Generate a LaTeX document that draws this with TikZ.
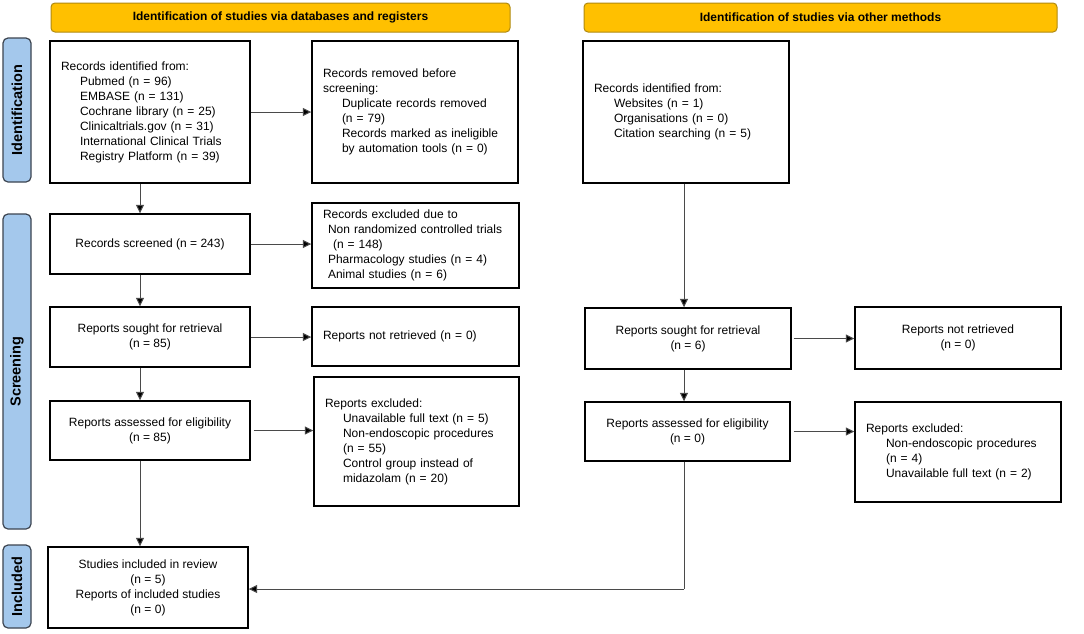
\documentclass[tikz,border=0pt]{standalone}
\usepackage{fontspec}
\setmainfont{Liberation Sans}
\usetikzlibrary{arrows.meta}
\definecolor{hdr}{HTML}{FFC000}
\definecolor{hdrb}{HTML}{B08A10}
\definecolor{side}{HTML}{A4C8EC}
\definecolor{sideb}{HTML}{3C4450}
\definecolor{conn}{HTML}{4A4A4A}
\begin{document}
\begin{tikzpicture}[x=1pt,y=-1pt,
  box/.style={draw=black, line width=1.4pt, fill=white, inner xsep=11pt, inner ysep=0pt,
    font=\fontsize{12}{15}\selectfont},
  lbox/.style={box, align=left},
  cbox/.style={box, align=center, inner xsep=0pt},
  header/.style={draw=hdrb, line width=1pt, fill=hdr, rounded corners=4pt,
    font=\bfseries\fontsize{12}{14}\selectfont, inner sep=0pt},
  sidebar/.style={draw=sideb, line width=1.2pt, fill=side, rounded corners=5pt,
    font=\bfseries\fontsize{14.5}{16}\selectfont, inner sep=0pt, rotate=90,
    minimum height=28pt},
  arr/.style={draw=conn, line width=1pt, -{Triangle[length=8.5pt,width=8pt,fill=black]}},
  ln/.style={draw=conn, line width=1pt}
]
\useasboundingbox (0,0) rectangle (1084,633);
\fill[white] (0,0) rectangle (1084,633);

% headers
\node[header, minimum width=459pt, minimum height=29pt] (hL) at (280.5,17.5)
  {Identification of studies via databases and registers};
\node[header, minimum width=473pt, minimum height=29pt] (hR) at (820.5,17.5)
  {Identification of studies via other methods};

% side bars
\node[sidebar, minimum width=144pt] (bId) at (17,110) {Identification};
\node[sidebar, minimum width=315pt] (bSc) at (17,371.5) {Screening};
\node[sidebar, minimum width=83pt] (bIn) at (17,586.5) {Included};

% left column
\node[lbox, text width=178pt, minimum height=142pt] (idL) at (150,112)
  {Records identified from:\\
   \hspace*{19pt}Pubmed (n = 96)\\
   \hspace*{19pt}EMBASE (n = 131)\\
   \hspace*{19pt}Cochrane library (n = 25)\\
   \hspace*{19pt}Clinicaltrials.gov (n = 31)\\
   \hspace*{19pt}International Clinical Trials\\
   \hspace*{19pt}Registry Platform (n = 39)};
\node[lbox, text width=184pt, minimum height=142pt] (rem) at (415,112)
  {Records removed before\\
   screening:\\
   \hspace*{19pt}Duplicate records removed\\
   \hspace*{19pt}(n = 79)\\
   \hspace*{19pt}Records marked as ineligible\\
   \hspace*{19pt}by automation tools (n = 0)};
\node[cbox, minimum width=200pt, minimum height=60pt] (scr) at (150,244)
  {Records screened (n = 243)};
\node[lbox, text width=185pt, minimum height=85pt] (exc1) at (415.5,245.5)
  {Records excluded due to\\
   \hspace*{5pt}Non randomized controlled trials\\
   \hspace*{10pt}(n = 148)\\
   \hspace*{5pt}Pharmacology studies (n = 4)\\
   \hspace*{5pt}Animal studies (n = 6)};
\node[cbox, minimum width=200pt, minimum height=60pt] (soL) at (150,337)
  {Reports sought for retrieval\\(n = 85)};
\node[lbox, text width=185pt, minimum height=59pt] (nrL) at (415.5,336.5)
  {Reports not retrieved (n = 0)};
\node[cbox, minimum width=200pt, minimum height=59pt] (asL) at (150,430.5)
  {Reports assessed for eligibility\\(n = 85)};
\node[lbox, text width=183pt, minimum height=129pt] (exc2) at (416.5,441.5)
  {Reports excluded:\\
   \hspace*{18pt}Unavailable full text (n = 5)\\
   \hspace*{18pt}Non-endoscopic procedures\\
   \hspace*{18pt}(n = 55)\\
   \hspace*{18pt}Control group instead of\\
   \hspace*{18pt}midazolam (n = 20)};
\node[cbox, minimum width=200pt, minimum height=81pt] (inc) at (148,587.5)
  {Studies included in review\\(n = 5)\\Reports of included studies\\(n = 0)};

% right column
\node[lbox, text width=184pt, minimum height=142pt] (idR) at (686,112)
  {Records identified from:\\
   \hspace*{20pt}Websites (n = 1)\\
   \hspace*{20pt}Organisations (n = 0)\\
   \hspace*{20pt}Citation searching (n = 5)};
\node[cbox, minimum width=206pt, minimum height=61pt] (soR) at (688,338.5)
  {Reports sought for retrieval\\(n = 6)};
\node[cbox, minimum width=206pt, minimum height=62pt] (nrR) at (958,338)
  {Reports not retrieved\\(n = 0)};
\node[cbox, minimum width=205pt, minimum height=59pt] (asR) at (687.5,431.5)
  {Reports assessed for eligibility\\(n = 0)};
\node[lbox, text width=184pt, minimum height=100pt] (exc3) at (958,452)
  {Reports excluded:\\
   \hspace*{20pt}Non-endoscopic procedures\\
   \hspace*{20pt}(n = 4)\\
   \hspace*{20pt}Unavailable full text (n = 2)};

% connectors left
\draw[arr] ([xshift=-10pt]idL.south) -- ([xshift=-10pt]scr.north);
\draw[arr] (idL.east) -- (rem.west);
\draw[arr] (scr.east) -- (scr.east -| exc1.west);
\draw[arr] ([xshift=-10pt]scr.south) -- ([xshift=-10pt]soL.north);
\draw[arr] (soL.east) -- (soL.east -| nrL.west);
\draw[arr] ([xshift=-10pt]soL.south) -- ([xshift=-10pt]asL.north);
\draw[arr] ([xshift=3pt]asL.east) -- (asL.east -| exc2.west);
\draw[arr] ([xshift=-10pt]asL.south) -- ([xshift=-8pt]inc.north);

% connectors right
\draw[arr] ([xshift=-2pt]idR.south) -- ([xshift=-2pt]idR.south |- soR.north);
\draw[arr] ([xshift=2pt]soR.east) -- (soR.east -| nrR.west);
\draw[arr] ([xshift=-4pt]soR.south) -- ([xshift=-4pt]soR.south |- asR.north);
\draw[arr] ([xshift=3pt]asR.east) -- (asR.east -| exc3.west);
\coordinate (bend) at ([xshift=-3.5pt]asR.south |- 0,589);
\draw[ln] ([xshift=-3.5pt]asR.south) -- (bend);
\draw[arr] (bend) -- (bend -| inc.east);
\end{tikzpicture}
\end{document}
